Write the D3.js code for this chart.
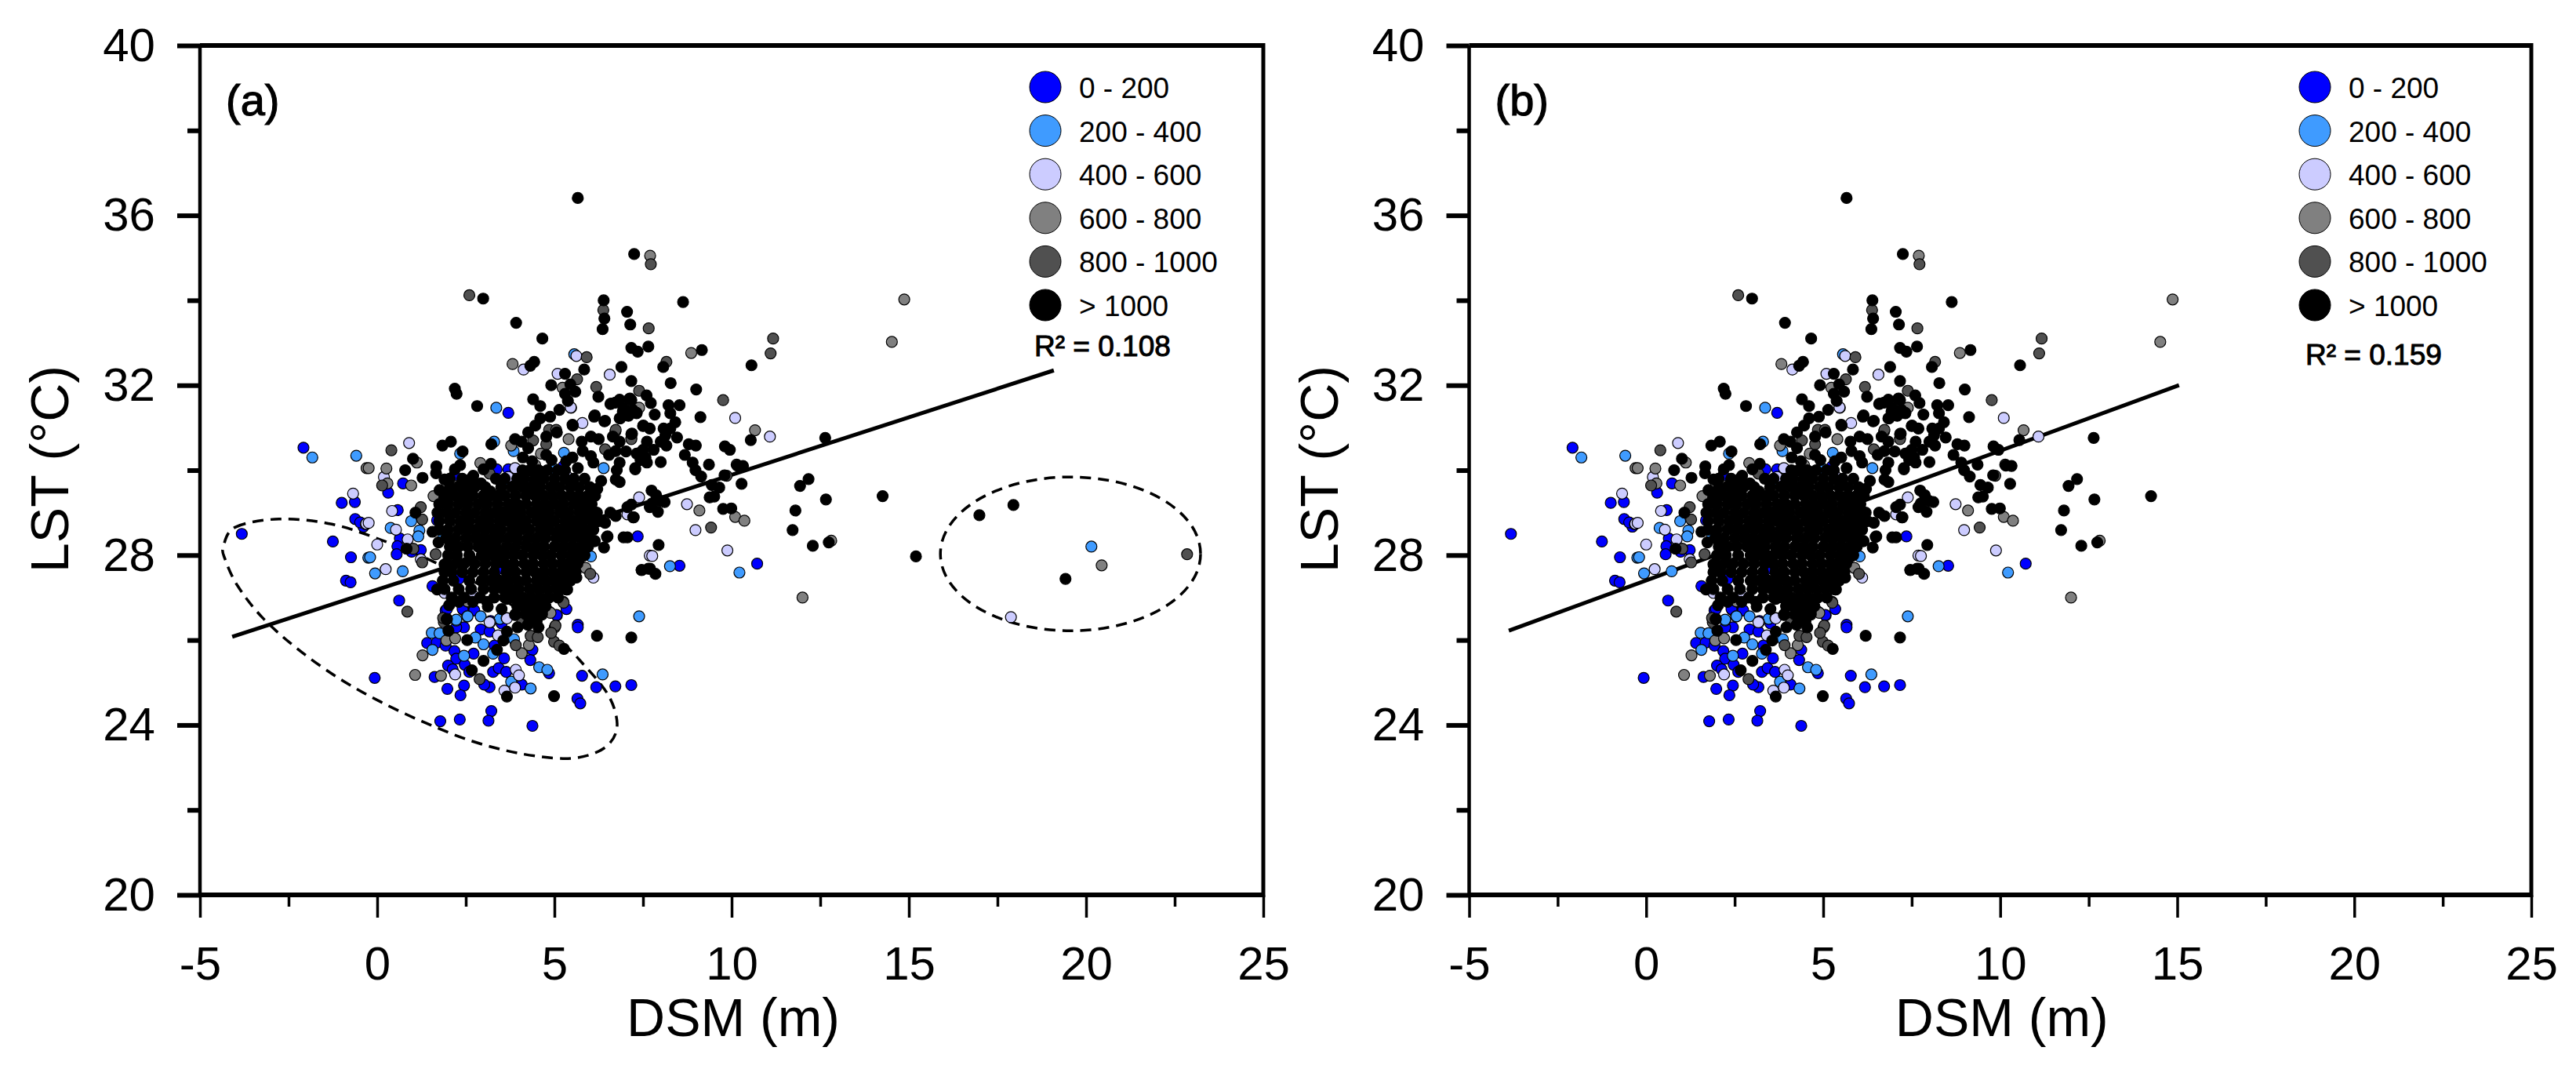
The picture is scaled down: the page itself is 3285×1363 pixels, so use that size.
<!DOCTYPE html>
<html>
<head>
<meta charset="utf-8">
<script src="https://cdnjs.cloudflare.com/ajax/libs/d3/7.8.5/d3.min.js"></script>
<style>
  body { margin: 0; background: #fff; }
  text { font-family: "Liberation Sans", Arial, sans-serif; fill: #000; }
</style>
</head>
<body>
<svg id="chart" width="3285" height="1363"></svg>
<script>
const legendLabels = ["0 - 200", "200 - 400", "400 - 600", "600 - 800", "800 - 1000", "> 1000"],
  classColors = ["#0000ff", "#3f9bff", "#ccccff", "#808080", "#505050", "#000000"]

const xMajor = [-5, 0, 5, 10, 15, 20, 25],
  xMinor = [-2.5, 2.5, 7.5, 12.5, 17.5, 22.5],
  yMajor = [20, 24, 28, 32, 36, 40],
  yMinor = [22, 26, 30, 34, 38]

// points, [DSM, LST], shared by both panels
const pts0to200 = [[-3.82,28.5],[-2.08,30.53],[-1.25,28.32],[-1,29.23],[-.63,29.25],[-.62,28.85],[-.39,28.67],[-.48,28.77],[-.74,27.95],[-.88,27.4],[-.75,27.36],
  [.31,29.47],[.73,29.69],[.58,29.06],[.64,28.39],[.57,28.21],[.55,28.02],[1.23,28.12],[.97,28.08],[1.69,28.82],[1.56,27.27],[.62,26.93],[2.18,29.88],[2.23,29.41],
  [3.37,30.02],[3.7,30.02],[3.7,31.35],[5.25,30.09],[3.37,27.65],[2.3,27.44],[7.35,28.44],[5.34,26.73],[5.07,26.58],[5.66,26.36],[5.66,26.3],[8.53,27.75],[10.72,27.8],
  [1.93,26.7],[2.43,26.71],[2.72,26.7],[2.45,26.3],[2.23,26.3],[2.92,26.25],[3.17,26.2],[3.51,26.39],[3.2,26.45],[1.97,26.73],[2.41,26.73],[2.74,26.7],
  [1.41,25.93],[1.68,25.94],[1.93,25.87],[2.18,25.74],[2.23,25.56],[2.47,25.42],[2.72,25.68],[2,25.4],[2.13,25.31],[2.6,25.25],[3.27,25.25],[3.43,25.34],[3.64,25.25],
  [3.31,25.87],[4.38,25.77],[3.58,25.57],[4.32,25.53],[4.85,25.22],[5.06,26.59],[1.62,25.13],[-.07,25.11],[1.98,24.85],[2.45,24.93],[2.35,24.7],[3.17,24.89],[3.02,24.95],
  [4.08,24.95],[5.78,25.16],[6.18,24.89],[6.72,24.91],[7.17,24.94],[5.65,24.62],[5.73,24.51],[3.22,24.33],[3.14,24.1],[2.33,24.13],[1.78,24.09],[4.38,23.98]]

const pts200to400 = [[-1.83,30.3],[-.59,30.34],[-.25,27.94],[-.2,27.95],[-.06,27.57],[.38,28.64],[.72,27.62],[.96,28.8],[1.19,28.58],[1.16,28.44],[1.86,28.42],
  [2.34,30.39],[3.36,31.47],[3.3,30.67],[3.85,30.45],[3.55,29.72],[5.02,30.02],[5.27,30.41],[6.39,30.05],[6.03,27.97],[5.56,32.73],[7.39,26.56],[8.26,27.74],[10.22,27.59],
  [1.54,26.17],[1.76,26.16],[2.23,26.46],[2.54,26.56],[2.92,26.56],[3.46,26.5],[1.56,25.77],[2.77,26.06],[3,25.9],[2.45,25.63],[3.86,26.02],[3.27,25.68],[4.57,25.36],
  [4.8,25.3],[3.78,25.02],[4.33,24.86],[6.36,25.19],[2.55,26.56],[2.23,26.48]]

const pts400to600 = [[-.68,29.45],[-.32,28.73],[-.31,28.74],[-.24,28.76],[0,28.25],[.19,29.84],[.42,29.04],[.53,28.6],[.86,28.37],[.24,27.67],[.9,30.64],[1.23,27.9],[1.9,27.11],
  [2.71,27.04],[3.33,28.85],[3.7,29.84],[3.89,30.05],[4.15,29.76],[5.33,29.88],[5.47,31.47],[5.79,31.11],[5.46,31.48],[5.62,32.69],[4.13,32.37],[5.09,32.27],[6.56,32.25],
  [7.39,29.36],[7.06,28.96],[5.66,27.81],[6.1,27.47],[7.69,27.99],[3.19,26.42],[3.65,26.52],[8.74,29.2],[8.98,28.59],[7.76,27.98],[9.88,28.11],[10.1,31.23],[11.08,30.79],
  [2.2,25.19],[3.91,25.3],[4,25.17],[3.89,24.88],[3.59,24.81],[3.17,26.42],[3.66,26.51],[3.41,26.11]]

const pts600to800 = [[-.3,30.05],[-.24,30.05],[.26,30.04],[1.12,30.18],[.96,29.64],[.29,29.69],[1.59,29.39],[2.91,30.17],[3.78,30.58],[3.82,32.5],[4.62,30.39],[4.46,30.12],
  [4.4,29.84],[4.07,29.51],[5.23,31.94],[5.4,30.73],[6.72,30.91],[7.39,31.47],[7.7,35.05],[8.86,32.76],[9.09,29.05],[10.1,28.9],[10.36,28.81],[10.66,30.94],[12,27],[12.81,28.34],
  [14.52,33.02],[14.87,34.02],[2.25,26.95],[2.56,26.91],[5.88,27.7],[4.85,26.67],[1.28,25.64],[1.07,25.18],[1.8,25.16],[1.95,25.99],[2.2,26.04],[2.55,26.91],[2.23,26.96],
  [4.08,25.69],[4.28,25.88],[5.01,26.3],[4.89,26.64]]

const pts800to1000 = [[.14,29.64],[.4,30.47],[1.23,29.13],[1.27,28.84],[1.9,29.32],[1.02,28.15],[1.65,28.02],[1.27,27.83],[.85,26.67],[2.3,28.64],[2.6,34.12],[3.17,29.92],[3.9,26.61],
  [4.4,30.7],[4.77,30.61],[4.85,30.95],[5.05,30.95],[5.03,26.34],[5.25,26.9],[5.64,32.14],[5.91,32.66],[6.18,31.96],[6.38,33.77],[6.01,27.56],[6.43,30.49],[6.73,30.95],[7.17,30.76],
  [7.17,30.73],[7.39,31.87],[7.66,33.34],[7.72,34.85],[8.16,32.55],[9.42,28.65],[9.76,31.65],[9.86,29.87],[10.14,30.13],[11.1,32.75],[11.17,33.1],
  [1.88,26.42],[3.91,25.88],[4.33,26.1],[4.53,26.07],[5.26,26.88],[3.89,26.59],[4.08,26.4],[2.89,25.08],[4.99,25.96],[5.14,25.87],[4.91,26.17],[1.86,26.52]]

const ptsOver1000 = [[5.66,36.41],[7.25,35.09],[2.99,34.04],[6.39,34],[8.63,33.96],[7.05,33.73],[7.14,33.43],[6.41,33.57],[6.36,33.32],[3.92,33.47],[4.66,33.1],
  [4.43,32.55],[4.32,32.46],[5.84,32.37],[6.89,32.43],[5.3,32.27],[5.45,32.02],[4.91,32],[2.19,31.92],[2.24,31.8],[5.59,31.85],[5.3,31.8],[5.38,31.63],[6.24,31.73],[4.4,31.67],
  [2.82,31.51],[4.6,31.51],[5.14,31.42],[6.72,31.59],[7.11,31.67],[6.93,31.38],[7.21,31.42],[6.86,31.22],[6.6,31.57],[4.88,31.26],[6.12,31.26],[4.6,31.22],[4.46,31.05],[6.41,31.15],
  [5.52,31.05],[4.26,30.89],[3.89,30.73],[4.07,30.67],[2.08,30.67],[1.84,30.58],[3.22,30.61],[2.41,30.44],[1.01,30.27],[.79,30],[1.28,29.82],[1.67,30.09],[1.66,29.93],
  [2.34,30.12],[2.19,30.02],[3.21,30.15],[3,30.02],[1.9,29.78],[2.3,29.62],[2.52,29.59],[2.71,29.87],[2.93,29.69],[2.67,29.41],[1.76,29.53],[3.19,29.5],[3.85,29.62],
  [4.11,30.3],[4.26,30.52],[4.37,30.21],[4.77,30.36],[4.92,30.24],[4.77,30.79],[5.07,30.89],[5.51,31.07],[6.14,31.29],[6.43,31.16],[6.58,31.56],[6.84,31.66],[7.13,31.69],
  [6.95,31.47],[6.84,31.22],[7.32,31.35],[6.03,30.79],[5.77,30.67],[6.25,30.73],[6.65,30.79],[6.84,30.67],[5.51,30.3],[5.33,30.21],[5.66,30.05],[6.1,30.18],[6.03,30.33],
  [5.8,30.45],[6.54,30.36],[6.73,30.45],[7.02,30.44],[6.84,30.18],[6.76,30],[6.73,29.78],[6.84,29.72],[6.32,29.75],[6.21,29.56],[7.28,30.05],[7.57,30.3],[7.43,30.42],
  [7.17,30.85],[7.5,31.04],[7.69,29.13],[7.24,28.89],[6.73,28.92],[6.58,29],[6.43,28.76],[6.1,29],[6,28.58],[6.5,28.44],[6.95,28.42],[6.14,28.33],[6.4,28.18],[5.77,27.96],
  [7.46,27.65],[7.7,27.68],[5.4,27.72],[5.62,27.47],[5.25,27.35],[5.36,27.19],[1.08,29],[1.56,28.55],[1.73,28.3],[.83,28.15],[1.9,27.78],[1.69,27.19],[1.97,26.5],
  [7.17,32.88],[7.35,32.79],[7.65,32.91],[9.16,32.83],[8.07,32.43],[10.56,32.47],[7.17,32.1],[8.28,32.05],[9,31.9],[7.6,31.76],[7.72,31.58],[7.17,31.65],[8.22,31.53],[8.53,31.53],
  [8.27,31.34],[7.83,31.31],[7.32,31.34],[7.09,31.28],[9.12,31.25],[8.41,31.13],[7.51,31.05],[7.69,30.98],[8.08,30.98],[8.27,30.98],[8.13,30.82],[8.46,30.77],[7.19,30.86],
  [10.54,30.71],[12.64,30.76],[8,30.67],[8.16,30.58],[7.61,30.67],[8.79,30.61],[8.99,30.58],[9.81,30.56],[9.95,30.48],[8.68,30.36],[7.8,30.48],[7.5,30.48],[7.32,30.39],
  [7.43,30.24],[7.61,30.18],[8,30.19],[7.28,30.02],[8.9,30.18],[8.98,30],[9.36,30.13],[9.14,29.85],[9.8,29.88],[10.16,30.11],[10.32,30.1],[10.28,29.68],[9.44,29.65],[9.65,29.59],
  [9.38,29.36],[9.51,29.38],[7.74,29.52],[7.87,29.41],[8.11,29.25],[7.76,29.22],[7.92,29.02],[7.98,29.28],[9.76,29.09],[9.99,29.1],[11.93,29.63],[12.17,29.79],[12.66,29.31],
  [14.26,29.39],[11.8,29.05],[11.72,28.59],[12.29,28.22],[12.74,28.3],[7.22,28.89],[7.06,29.13],[7.17,29.19],[7.94,28.24],[7.46,27.65],[7.65,27.68],[7.85,27.56],[7.17,26.06],[7.06,28.42],
  [2.03,26.82],[1.96,26.49],[2.01,26.22],[2.54,26],[3.38,25.77],[3,25.51],[2.67,25.29],[3.66,24.67],[4.99,24.68],[5.27,25.79],[6.2,26.1],[6.48,28.43],
  [3.12,26.79],[3.51,26.73],[3.66,26.97],[4.25,26.36],[3.96,26.3],[3.66,26.2],[3.56,25.99],[4.55,26.3],[4.65,26.67],[4.45,26.79],[4.15,26.79],
  [5.34,27.77],[5.34,27.19],[5.24,27.4],[5.93,28.57],[6.13,28.33]]

// the two solid black blobs in the middle of the cloud
const ptsCoreLeft = [[1.9,29.4],[2.15,29.4],[2.4,29.4],[2.7,29.4],[3,29.4],[3.25,29.4],[1.75,29.2],[2,29.2],[2.3,29.2],[2.55,29.2],[2.85,29.2],
  [1.7,29],[1.95,29],[2.2,29],[2.5,29],[2.75,29],[3.05,29],[1.75,28.8],[2.05,28.8],[2.35,28.8],[2.6,28.8],[2.9,28.8],[1.75,28.6],[2,28.6],[2.3,28.6],[2.55,28.6],[2.8,28.6],
  [1.95,28.4],[2.2,28.4],[2.5,28.4],[2.75,28.4],[3,28.4],[2.05,28.2],[2.3,28.2],[2.55,28.2],[2.85,28.2],[3.1,28.2],[2,28],[2.25,28],[2.6,28],[2.95,28],
  [1.95,27.8],[2.2,27.8],[2.45,27.8],[2.75,27.8],[3.05,27.8],[1.9,27.6],[2.1,27.6],[2.4,27.6],[2.7,27.6],[3,27.6],[1.85,27.4],[2.15,27.4],[2.6,27.4],[2.95,27.4],[3.2,27.4],
  [1.9,27.2],[2.3,27.2],[2.65,27.2],[3,27.2],[3.3,27.2],[2.1,27],[2.45,27],[2.9,27],[3.3,27]]

const ptsCoreRight = [[4.35,29.6],[4.6,29.6],[4.9,29.6],[5.15,29.6],[3.6,29.4],[3.9,29.4],[4.2,29.4],[4.45,29.4],[4.7,29.4],[4.95,29.4],[5.2,29.4],[5.45,29.4],
  [3.4,29.2],[3.7,29.2],[3.95,29.2],[4.2,29.2],[4.5,29.2],[4.75,29.2],[5,29.2],[5.25,29.2],[5.55,29.2],[3.55,29],[3.8,29],[4.05,29],[4.35,29],[4.6,29],[4.85,29],[5.15,29],[5.4,29],[5.7,29],
  [3.7,28.8],[3.95,28.8],[4.2,28.8],[4.5,28.8],[4.75,28.8],[5,28.8],[5.3,28.8],[5.55,28.8],[5.8,28.8],[3.5,28.6],[3.8,28.6],[4.05,28.6],[4.3,28.6],[4.6,28.6],[4.85,28.6],[5.15,28.6],[5.4,28.6],[5.65,28.6],[5.85,28.6],
  [3.45,28.4],[3.7,28.4],[3.95,28.4],[4.25,28.4],[4.5,28.4],[4.75,28.4],[5.05,28.4],[5.3,28.4],[5.55,28.4],[5.8,28.4],[3.65,28.2],[3.9,28.2],[4.2,28.2],[4.45,28.2],[4.7,28.2],[5,28.2],[5.25,28.2],[5.5,28.2],[5.75,28.2],
  [3.6,28],[3.85,28],[4.1,28],[4.4,28],[4.65,28],[4.9,28],[5.2,28],[5.45,28],[5.65,28],[3.6,27.8],[3.85,27.8],[4.15,27.8],[4.4,27.8],[4.7,27.8],[4.95,27.8],[5.2,27.8],[5.45,27.8],
  [3.65,27.6],[3.9,27.6],[4.2,27.6],[4.45,27.6],[4.7,27.6],[4.95,27.6],[5.2,27.6],[3.7,27.4],[3.95,27.4],[4.2,27.4],[4.5,27.4],[4.75,27.4],[5,27.4],
  [3.75,27.2],[4,27.2],[4.3,27.2],[4.55,27.2],[4.8,27.2],[5.05,27.2],[3.85,27],[4.1,27],[4.35,27],[4.6,27],[4.85,27],[5.1,27],[3.95,26.8],[4.25,26.8],[4.5,26.8],[4.75,26.8],[3.9,26.6],[4.2,26.6],[4.4,26.6],[4.65,26.6],[4.3,26.45],[4.5,26.45]]

// black around and between the blobs
const ptsCoreEdge = [[4.1,30],[4.3,30],[4.55,30],[4.8,30],[5.1,30],[5.3,30],[2.05,29.8],[2.4,29.8],[2.65,29.8],[3.35,29.8],[3.6,29.8],[3.95,29.8],[4.15,29.8],[4.45,29.8],[4.7,29.8],[5,29.8],[5.3,29.8],[5.55,29.8],[5.85,29.8],
  [2.05,29.6],[2.75,29.6],[3.05,29.6],[3.5,29.6],[3.8,29.6],[4.1,29.6],[5.45,29.6],[5.7,29.6],[6,29.6],[3.4,29.4],[5.7,29.4],[5.95,29.4],[6.15,29.4],[3.1,29.2],[5.8,29.2],[6.05,29.2],
  [3.3,29],[5.95,29],[6.2,29],[3.15,28.8],[3.45,28.8],[6.05,28.8],[6.25,28.8],[3.05,28.6],[3.3,28.6],[6.1,28.6],[3.25,28.4],[5.95,28.4],[3.35,28.2],[5.95,28.2],[3.2,28],[3.4,28],[5.85,28],
  [3.35,27.8],[5.65,27.8],[3.3,27.6],[5.4,27.6],[5.6,27.6],[3.45,27.4],[5.2,27.4],[5.45,27.4],[3.55,27.2],[5.3,27.2],[3.6,27],[2.3,26.9],[2.7,26.9],[3.1,26.9]]

// only panel (a) has these, the far right group
const extra200to400 = [[20.15,28.2]],
  extra400to600 = [[17.88,26.54]],
  extra600to800 = [[20.44,27.76]],
  extra800to1000 = [[22.85,28.02]],
  extraOver1000 = [[15.2,27.97],[16.99,28.94],[17.95,29.18],[19.42,27.44]]

// regression lines, r2
const fitA = [[-4.09,26.08],[19.09,32.35]],
  fitB = [[-3.88,26.22],[15.05,32]],
  r2A = "R\u00b2 = 0.108",
  r2B = "R\u00b2 = 0.159"

// dashed outline round the low left group of (a)
const lowOutline = [[-4.34,28.2],[-4,28.66],[-2.77,28.85],[-1.28,28.73],[.2,28.33],[1.68,27.81],[3.3,27.1],[5.04,26.06],[5.84,25.41],[6.53,24.69],[6.77,24.03],[6.57,23.58],[6.04,23.31],[5.24,23.21],
  [3.96,23.34],[2.68,23.62],[1.39,24.04],[.11,24.54],[-1.08,25.1],[-2.26,25.8],[-3.25,26.54],[-3.94,27.28],[-4.29,27.9]]
// centre and half sizes of the ellipse round the far right group, data units
const farEllipse = { x: 19.56, y: 28.03, rx: 3.67, ry: 1.81 }

const svg = d3.select("#chart")

const y = d3.scaleLinear().domain([20, 40]).range([1141, 58])

function drawPanel(o) {
  const x = d3.scaleLinear().domain([-5, 25]).range(o.xRange)
  const g = svg.append("g")
  const x0 = o.xRange[0], x1 = o.xRange[1]

  // annotations sit under the line and the dots
  if (o.outline) {
    const outline = d3.line().x(d => x(d[0])).y(d => y(d[1])).curve(d3.curveCardinalClosed)
    g.append("path").attr("d", outline(o.outline))
      .attr("fill", "none").attr("stroke", "#000").attr("stroke-width", 3.5).attr("stroke-dasharray", "14 9")
    g.append("ellipse")
      .attr("cx", x(o.ellipse.x)).attr("cy", y(o.ellipse.y))
      .attr("rx", x(o.ellipse.x + o.ellipse.rx) - x(o.ellipse.x))
      .attr("ry", y(o.ellipse.y - o.ellipse.ry) - y(o.ellipse.y))
      .attr("fill", "none").attr("stroke", "#000").attr("stroke-width", 3.5).attr("stroke-dasharray", "14 9")
  }

  g.append("line")
    .attr("x1", x(o.fit[0][0])).attr("y1", y(o.fit[0][1]))
    .attr("x2", x(o.fit[1][0])).attr("y2", y(o.fit[1][1]))
    .attr("stroke", "#000").attr("stroke-width", 5)

  o.series.forEach(function(s, i) {
    g.append("g").selectAll("circle")
      .data(s)
      .join("circle")
      .attr("cx", d => x(d[0]))
      .attr("cy", d => y(d[1]))
      .attr("r", 7)
      .attr("fill", classColors[i])
      .attr("stroke", "#000")
      .attr("stroke-width", 1.2)
  })

  // frame
  g.append("line").attr("x1", x0).attr("x2", x0).attr("y1", 58).attr("y2", 1141).attr("stroke", "#000").attr("stroke-width", 4.5)
  g.append("line").attr("x1", x1).attr("x2", x1).attr("y1", 55).attr("y2", 1144).attr("stroke", "#000").attr("stroke-width", 5)
  g.append("line").attr("x1", x0).attr("x2", x1 + 2).attr("y1", 58).attr("y2", 58).attr("stroke", "#000").attr("stroke-width", 6)
  g.append("line").attr("x1", x0).attr("x2", x1 + 2).attr("y1", 1141).attr("y2", 1141).attr("stroke", "#000").attr("stroke-width", 6)

  // axes
  const yAxis = g.append("g").attr("transform", "translate(" + x0 + ",0)")
    .call(d3.axisLeft(y).tickValues(yMajor).tickSize(29).tickPadding(28).tickFormat(d3.format("d")))
  const yAxisMinor = g.append("g").attr("transform", "translate(" + x0 + ",0)")
    .call(d3.axisLeft(y).tickValues(yMinor).tickSize(16).tickFormat(""))
  const xAxis = g.append("g").attr("transform", "translate(0,1141)")
    .call(d3.axisBottom(x).tickValues(xMajor).tickSize(29).tickPadding(36).tickFormat(d3.format("d")))
  const xAxisMinor = g.append("g").attr("transform", "translate(0,1141)")
    .call(d3.axisBottom(x).tickValues(xMinor).tickSize(15).tickFormat(""))

  ;[yAxis, yAxisMinor, xAxis, xAxisMinor].forEach(function(a) {
    a.select(".domain").remove()
    a.selectAll("text").style("font-size", "60px")
  })
  yAxis.selectAll("line").attr("stroke-width", 6)
  yAxisMinor.selectAll("line").attr("stroke-width", 6)
  xAxis.selectAll("line").attr("stroke-width", 3.5)
  xAxisMinor.selectAll("line").attr("stroke-width", 3.5)
  // d3 puts a real minus sign in, the picture has a hyphen
  xAxis.selectAll("text").text(d => String(d))

  g.append("text").attr("x", (x0 + x1) / 2 + 2).attr("y", 1321).attr("text-anchor", "middle")
    .style("font-size", "68px").text("DSM (m)")
  g.append("text").attr("transform", "translate(" + (x0 - 168) + ",598) rotate(-90)").attr("text-anchor", "middle")
    .style("font-size", "68px").text("LST (\u00b0C)")
  g.append("text").attr("x", x0 + 33).attr("y", 147)
    .style("font-size", "56px").style("stroke", "#000").style("stroke-width", "1.2px").text(o.label)

  // legend
  const legend = g.append("g").selectAll("g")
    .data(legendLabels)
    .join("g")
    .attr("transform", (d, i) => "translate(" + o.legendX + "," + (111 + i * 55.6) + ")")
  legend.append("circle").attr("r", 20).attr("fill", (d, i) => classColors[i]).attr("stroke", "#000").attr("stroke-width", 1)
  legend.append("text").attr("x", 43).attr("y", 14).style("font-size", "37px").text(d => d)

  g.append("text").attr("x", o.r2Pos[0]).attr("y", o.r2Pos[1])
    .style("font-size", "37px").style("stroke", "#000").style("stroke-width", "1px").text(o.r2)
}

const coreBlack = ptsCoreLeft.concat(ptsCoreRight, ptsCoreEdge)

drawPanel({
  xRange: [255, 1611],
  label: "(a)",
  fit: fitA,
  r2: r2A,
  r2Pos: [1319, 454],
  legendX: 1333,
  outline: lowOutline,
  ellipse: farEllipse,
  series: [pts0to200, pts200to400.concat(extra200to400), pts400to600.concat(extra400to600),
    pts600to800.concat(extra600to800), pts800to1000.concat(extra800to1000), ptsOver1000.concat(coreBlack, extraOver1000)]
})

drawPanel({
  xRange: [1873.5, 3228],
  label: "(b)",
  fit: fitB,
  r2: r2B,
  r2Pos: [2940, 465],
  legendX: 2952,
  series: [pts0to200, pts200to400, pts400to600, pts600to800, pts800to1000, ptsOver1000.concat(coreBlack)]
})
</script>
</body>
</html>
